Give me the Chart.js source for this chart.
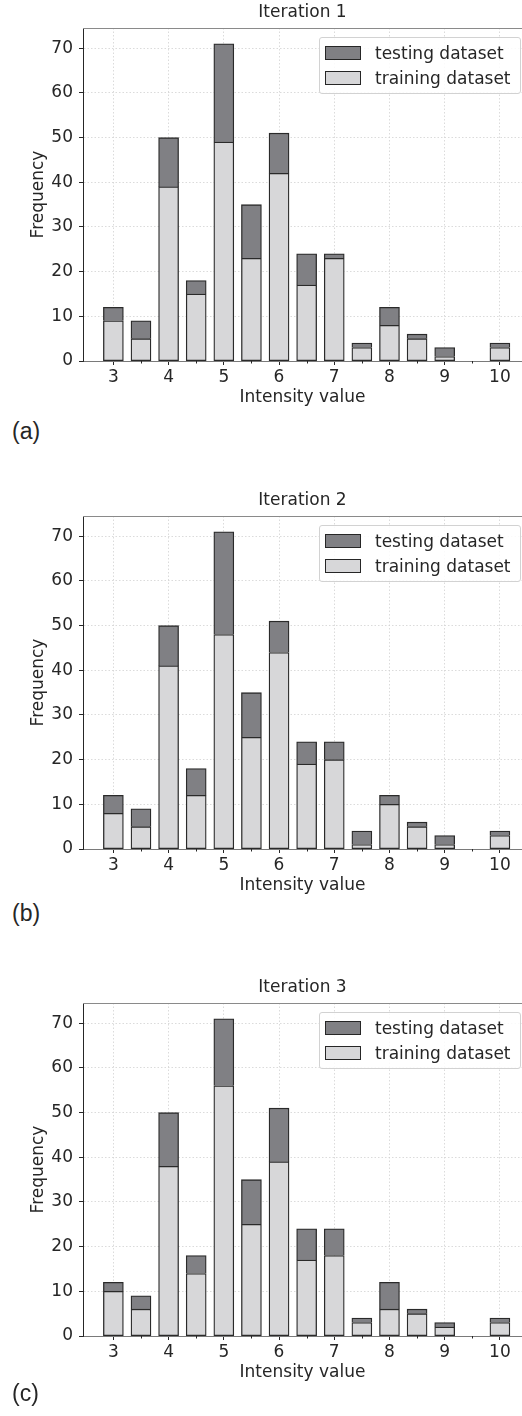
<!DOCTYPE html>
<html>
<head>
<meta charset="utf-8">
<script src="https://cdn.jsdelivr.net/npm/chart.js@4.4.1/dist/chart.umd.min.js"></script>
<style>
  body { margin: 0; background: #fff; width: 522px; height: 1416px; position: relative; overflow: hidden; color: #262626; font-family: "DejaVu Sans", sans-serif; }
  .panel { position: absolute; left: 0; width: 522px; height: 410px; }
  .panel canvas { position: absolute; left: 0; top: 0; }
  .tag { position: absolute; left: 12px; font: 23px "Liberation Sans", Arial, sans-serif; line-height: 22px; color: #262626; }
  .legend { position: absolute; left: 319px; top: 37px; width: 202px; height: 57px; box-sizing: border-box; border: 1px solid #d2d2d2; border-radius: 3px; background: rgba(255,255,255,0.85); font-size: 17px; }
  .legend .row { position: absolute; left: 5px; height: 20px; line-height: 20px; white-space: nowrap; }
  .legend .sw { position: absolute; left: 0; top: 3px; width: 36px; height: 14px; box-sizing: border-box; border: 1.2px solid #262626; }
  .legend .txt { position: absolute; left: 50px; top: 0; }
</style>
</head>
<body>
<div class="panel" id="p1" style="top:0px"><canvas id="c1" width="522" height="410"></canvas></div>
<div class="tag" style="top:420px">(a)</div>
<div class="panel" id="p2" style="top:488px"><canvas id="c2" width="522" height="410"></canvas></div>
<div class="tag" style="top:902px">(b)</div>
<div class="panel" id="p3" style="top:975px"><canvas id="c3" width="522" height="410"></canvas></div>
<div class="tag" style="top:1382px">(c)</div>

<script>
// histogram bins (intensity value), half-unit steps
const bins = [3, 3.5, 4, 4.5, 5, 5.5, 6, 6.5, 7, 7.5, 8, 8.5, 9, 9.5, 10];
const xTicks = [3, 4, 5, 6, 7, 8, 9, 10];
const yTicks = [0, 10, 20, 30, 40, 50, 60, 70];

// iteration 1
const train1 = [9, 5, 39, 15, 49, 23, 42, 17, 23, 3, 8, 5, 1, 0, 3];
const test1  = [3, 4, 11, 3, 22, 12, 9, 7, 1, 1, 4, 1, 2, 0, 1];
// iteration 2
const train2 = [8, 5, 41, 12, 48, 25, 44, 19, 20, 1, 10, 5, 1, 0, 3];
const test2  = [4, 4, 9, 6, 23, 10, 7, 5, 4, 3, 2, 1, 2, 0, 1];
// iteration 3
const train3 = [10, 6, 38, 14, 56, 25, 39, 17, 18, 3, 6, 5, 2, 0, 3];
const test3  = [2, 3, 12, 4, 15, 10, 12, 7, 6, 1, 6, 1, 1, 0, 1];

const TEXT = '#262626';
const TEST_COLOR = '#808084';
const TRAIN_COLOR = '#d7d7d9';
const EDGE = '#2a2a2a';

// top spine, minor ticks and the panel title
const framePlugin = {
  id: 'frame',
  afterDraw(chart, args, opts) {
    const { ctx, chartArea: a } = chart;
    const xs = chart.scales.x;
    ctx.save();
    ctx.strokeStyle = '#8a8a8a';
    ctx.lineWidth = 1;
    ctx.beginPath();
    ctx.moveTo(a.left, a.top + 0.5);
    ctx.lineTo(a.right, a.top + 0.5);
    ctx.stroke();
    ctx.strokeStyle = TEXT;
    bins.filter(b => !xTicks.includes(b)).forEach(b => {
      const px = Math.round(xs.getPixelForValue(b)) + 0.5;
      ctx.beginPath();
      ctx.moveTo(px, a.bottom);
      ctx.lineTo(px, a.bottom + 2.5);
      ctx.stroke();
    });
    ctx.fillStyle = TEXT;
    ctx.font = '17px "DejaVu Sans"';
    ctx.textAlign = 'center';
    ctx.textBaseline = 'middle';
    ctx.fillText(opts.title, (a.left + a.right) / 2, 13);
    ctx.restore();
  }
};

function makeChart(id, title, train, test) {
  const chart = new Chart(document.getElementById(id), {
    type: 'bar',
    data: {
      datasets: [
        {
          label: 'training dataset',
          data: bins.map((b, i) => ({ x: b, y: train[i] })),
          backgroundColor: TRAIN_COLOR,
          borderColor: EDGE,
          borderWidth: 1.3,
          borderSkipped: false,
          barThickness: 20
        },
        {
          label: 'testing dataset',
          data: bins.map((b, i) => ({ x: b, y: test[i] })),
          backgroundColor: TEST_COLOR,
          borderColor: EDGE,
          borderWidth: 1.3,
          borderSkipped: 'start',
          barThickness: 20
        }
      ]
    },
    options: {
      responsive: false,
      animation: false,
      devicePixelRatio: 1,
      layout: { padding: { top: 28, left: 0, right: 0, bottom: 0 } },
      plugins: {
        legend: { display: false },
        tooltip: { enabled: false },
        frame: { title: title }
      },
      scales: {
        x: {
          type: 'linear',
          stacked: true,
          offset: false,
          min: 2.45,
          max: 10.4,
          afterBuildTicks: s => { s.ticks = xTicks.map(v => ({ value: v })); },
          afterFit: s => { s.height = 49; },
          grid: { offset: false, color: '#d2d2d2', lineWidth: 0.8, tickColor: TEXT, tickLength: 4, tickWidth: 1, tickBorderDash: [] },
          border: { display: true, color: '#7a7a7a', width: 1, dash: [1.5, 2] },
          ticks: { color: TEXT, font: { family: 'DejaVu Sans', size: 17 }, padding: 2, maxRotation: 0 },
          title: { display: true, text: 'Intensity value', color: TEXT, font: { family: 'DejaVu Sans', size: 17 }, padding: { top: 0, bottom: 2 } }
        },
        y: {
          stacked: true,
          min: 0,
          max: 74.55,
          afterBuildTicks: s => { s.ticks = yTicks.map(v => ({ value: v })); },
          afterFit: s => { s.width = 83; },
          grid: { color: '#d2d2d2', lineWidth: 0.8, tickColor: TEXT, tickLength: 4, tickWidth: 1, tickBorderDash: [] },
          border: { display: true, color: TEXT, width: 1, dash: [1.5, 2] },
          ticks: { color: TEXT, font: { family: 'DejaVu Sans', size: 17 }, padding: 6 },
          title: { display: true, text: 'Frequency', color: TEXT, font: { family: 'DejaVu Sans', size: 17 }, padding: { top: 28, bottom: 0 } }
        }
      }
    },
    plugins: [framePlugin]
  });

  // legend box in the upper right, testing first like the original
  const panel = document.getElementById(id).parentNode;
  const box = document.createElement('div');
  box.className = 'legend';
  [chart.data.datasets[1], chart.data.datasets[0]].forEach((ds, i) => {
    const row = document.createElement('div');
    row.className = 'row';
    row.style.top = (5 + i * 24.5) + 'px';
    row.innerHTML = '<span class="sw" style="background:' + ds.backgroundColor + '"></span><span class="txt">' + ds.label + '</span>';
    box.appendChild(row);
  });
  panel.appendChild(box);
  return chart;
}

makeChart('c1', 'Iteration 1', train1, test1);
makeChart('c2', 'Iteration 2', train2, test2);
makeChart('c3', 'Iteration 3', train3, test3);
</script>
</body>
</html>
